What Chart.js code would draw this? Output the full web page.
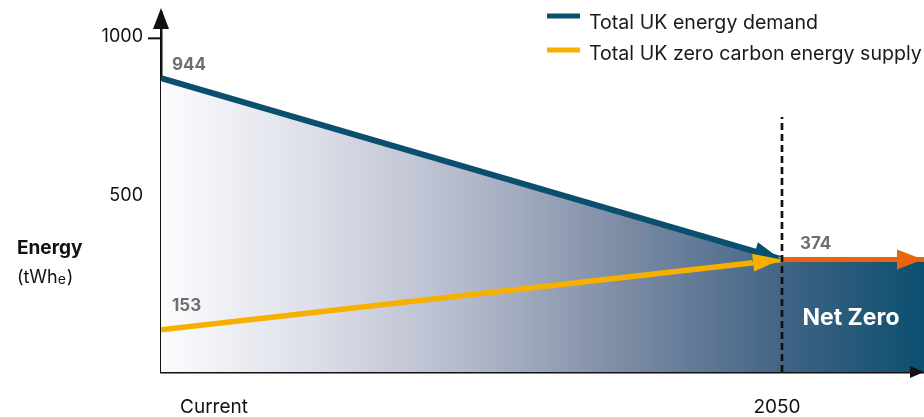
<!DOCTYPE html>
<html>
<head>
<meta charset="utf-8">
<script src="https://cdn.jsdelivr.net/npm/chart.js@4.4.0/dist/chart.umd.min.js"></script>
<style>
  html, body { margin: 0; padding: 0; background: #fff; }
</style>
</head>
<body>
<canvas id="myChart" width="924" height="417"></canvas>
<script>
// data
const seriesNames = ['Total UK energy demand', 'Total UK zero carbon energy supply'];
const xLabels = ['Current', '2050'];
const xPoints = [0, 1];
const demand = [944, 374];
const supply = [153, 374];
const netZeroX = [1, 1.2287];
const netZero = [374, 374];
const yTicks = [500, 1000];
const markerX = [1, 1];
const markerY = [20, 822];

const FONT = 'Inter, "Noto Sans", sans-serif';
const demandColor = '#0b4f6e';
const supplyColor = '#f7b000';
const netZeroColor = '#e9650b';

const ctx = document.getElementById('myChart');

function pts(xs, ys) { return xs.map((x, i) => ({ x: x, y: ys[i] })); }

function arrowHead(c, from, tip, len, half, color) {
  const a = Math.atan2(tip.y - from.y, tip.x - from.x);
  c.save(); c.translate(tip.x, tip.y); c.rotate(a);
  c.beginPath(); c.moveTo(0, 0); c.lineTo(-len, -half); c.lineTo(-len, half); c.closePath();
  c.fillStyle = color; c.fill(); c.restore();
}

function demandFill(context) {
  const chart = context.chart;
  if (!chart.chartArea) return 'transparent';
  const xs = chart.scales.x;
  const g = chart.ctx.createLinearGradient(xs.getPixelForValue(0), 0, xs.getPixelForValue(1), 0);
  g.addColorStop(0, '#fcfcfe');
  g.addColorStop(0.25, '#dcdee8');
  g.addColorStop(0.5, '#b2b8ca');
  g.addColorStop(0.75, '#7b8ba4');
  g.addColorStop(1, '#436586');
  return g;
}

function netZeroFill(context) {
  const chart = context.chart;
  if (!chart.chartArea) return 'transparent';
  const xs = chart.scales.x;
  const g = chart.ctx.createLinearGradient(xs.getPixelForValue(1), 0, chart.chartArea.right, 0);
  g.addColorStop(0, '#416384');
  g.addColorStop(1, '#0b4f70');
  return g;
}

const extras = {
  id: 'extras',
  afterDatasetsDraw(chart) {
    const c = chart.ctx;
    const xs = chart.scales.x, ys = chart.scales.y;
    const area = chart.chartArea;
    const p = (x, y) => ({ x: xs.getPixelForValue(x), y: ys.getPixelForValue(y) });

    // arrow heads
    const d0 = p(xPoints[0], demand[0]), d1 = p(xPoints[1], demand[1]);
    arrowHead(c, d0, { x: d1.x - 1, y: d1.y }, 27, 10, demandColor);
    const s0 = p(xPoints[0], supply[0]), s1 = p(xPoints[1], supply[1]);
    arrowHead(c, s0, { x: s1.x - 1, y: s1.y }, 28, 9, supplyColor);
    const n0 = p(netZeroX[0], netZero[0]), n1 = p(netZeroX[1], netZero[1]);
    arrowHead(c, n0, { x: n1.x - 1, y: n1.y }, 26, 10, netZeroColor);

    // axis arrows
    c.fillStyle = '#111';
    c.beginPath(); c.moveTo(area.left, 8); c.lineTo(area.left - 8, 29); c.lineTo(area.left + 8, 29); c.closePath(); c.fill();
    c.beginPath(); c.moveTo(area.right, area.bottom); c.lineTo(area.right - 14, area.bottom - 6); c.lineTo(area.right - 14, area.bottom + 6); c.closePath(); c.fill();

    // tick dash at 1000
    const t = ys.getPixelForValue(yTicks[1]) - 22;
    c.strokeStyle = '#111'; c.lineWidth = 2;
    c.beginPath(); c.moveTo(area.left - 13, t); c.lineTo(area.left, t); c.stroke();

    // value labels
    c.fillStyle = '#6e6e6e';
    c.font = 'bold 17px ' + FONT;
    c.textAlign = 'left'; c.textBaseline = 'alphabetic';
    c.fillText(String(demand[0]), d0.x + 11, d0.y - 8);
    c.fillText(String(supply[0]), s0.x + 11, s0.y - 19);
    c.fillText(String(netZero[0]), n0.x + 18, n0.y - 10);

    // Net Zero label
    c.fillStyle = '#fff';
    c.font = 'bold 23px ' + FONT;
    c.textAlign = 'center';
    c.fillText('Net Zero', (n0.x + area.right) / 2 - 2, 325);

    // x labels
    c.fillStyle = '#111';
    c.font = '19px ' + FONT;
    c.fillText(xLabels[0], xs.getPixelForValue(xPoints[0]) + 53, 413);
    c.fillText(xLabels[1], xs.getPixelForValue(xPoints[1]) - 5, 413);

    // y title
    c.textAlign = 'left';
    c.font = 'bold 19px ' + FONT;
    c.fillText('Energy', 17, 254);
    c.font = '18px ' + FONT;
    let x = 17;
    c.fillText('(tWh', x, 283); x += c.measureText('(tWh').width;
    c.font = '14px ' + FONT;
    c.fillText('e', x, 284); x += c.measureText('e').width + 1;
    c.font = '18px ' + FONT;
    c.fillText(')', x, 283);

    // legend
    const cols = [demandColor, supplyColor];
    const ly = [16, 50], by = [29, 60];
    c.font = '19.6px ' + FONT;
    cols.forEach((col, i) => {
      c.strokeStyle = col; c.lineWidth = 5;
      c.beginPath(); c.moveTo(547, ly[i]); c.lineTo(580, ly[i]); c.stroke();
      c.fillStyle = '#1a1a1a';
      c.fillText(seriesNames[i], 589, by[i]);
    });
  }
};

new Chart(ctx, {
  type: 'line',
  data: {
    datasets: [
      { label: 'marker', data: pts(markerX, markerY), borderColor: '#111', borderWidth: 2.7, borderDash: [7, 4], pointRadius: 0, fill: false },
      { label: seriesNames[1], data: pts(xPoints, supply), borderColor: supplyColor, borderWidth: 5.5, pointRadius: 0, fill: false },
      { label: seriesNames[0], data: pts(xPoints, demand), borderColor: demandColor, borderWidth: 6, pointRadius: 0, fill: 'start', backgroundColor: demandFill },
      { label: 'Net Zero', data: pts(netZeroX, netZero), borderColor: netZeroColor, borderWidth: 5, pointRadius: 0, fill: 'start', backgroundColor: netZeroFill }
    ]
  },
  options: {
    responsive: false,
    animation: false,
    layout: { padding: { top: 12, right: 0, left: 0, bottom: 0 } },
    plugins: { legend: { display: false }, tooltip: { enabled: false } },
    scales: {
      x: {
        type: 'linear', min: 0, max: netZeroX[1], z: 1,
        ticks: { display: false },
        grid: { display: false, drawTicks: false },
        border: { color: '#111', width: 2.5 },
        afterFit: s => { s.height = 45; s.paddingLeft = 0; s.paddingRight = 0; }
      },
      y: {
        type: 'linear', min: 20, max: 1152, z: 1,
        afterBuildTicks: s => { s.ticks = yTicks.map(v => ({ value: v })); },
        ticks: { color: '#111', font: { family: FONT, size: 18 }, padding: 18, labelOffset: -24, callback: v => String(v) },
        grid: { display: false, drawTicks: false },
        border: { color: '#111', width: 2.5 },
        afterFit: s => { s.width = 161; s.paddingTop = 0; s.paddingBottom = 0; }
      }
    }
  },
  plugins: [extras]
});
</script>
</body>
</html>
